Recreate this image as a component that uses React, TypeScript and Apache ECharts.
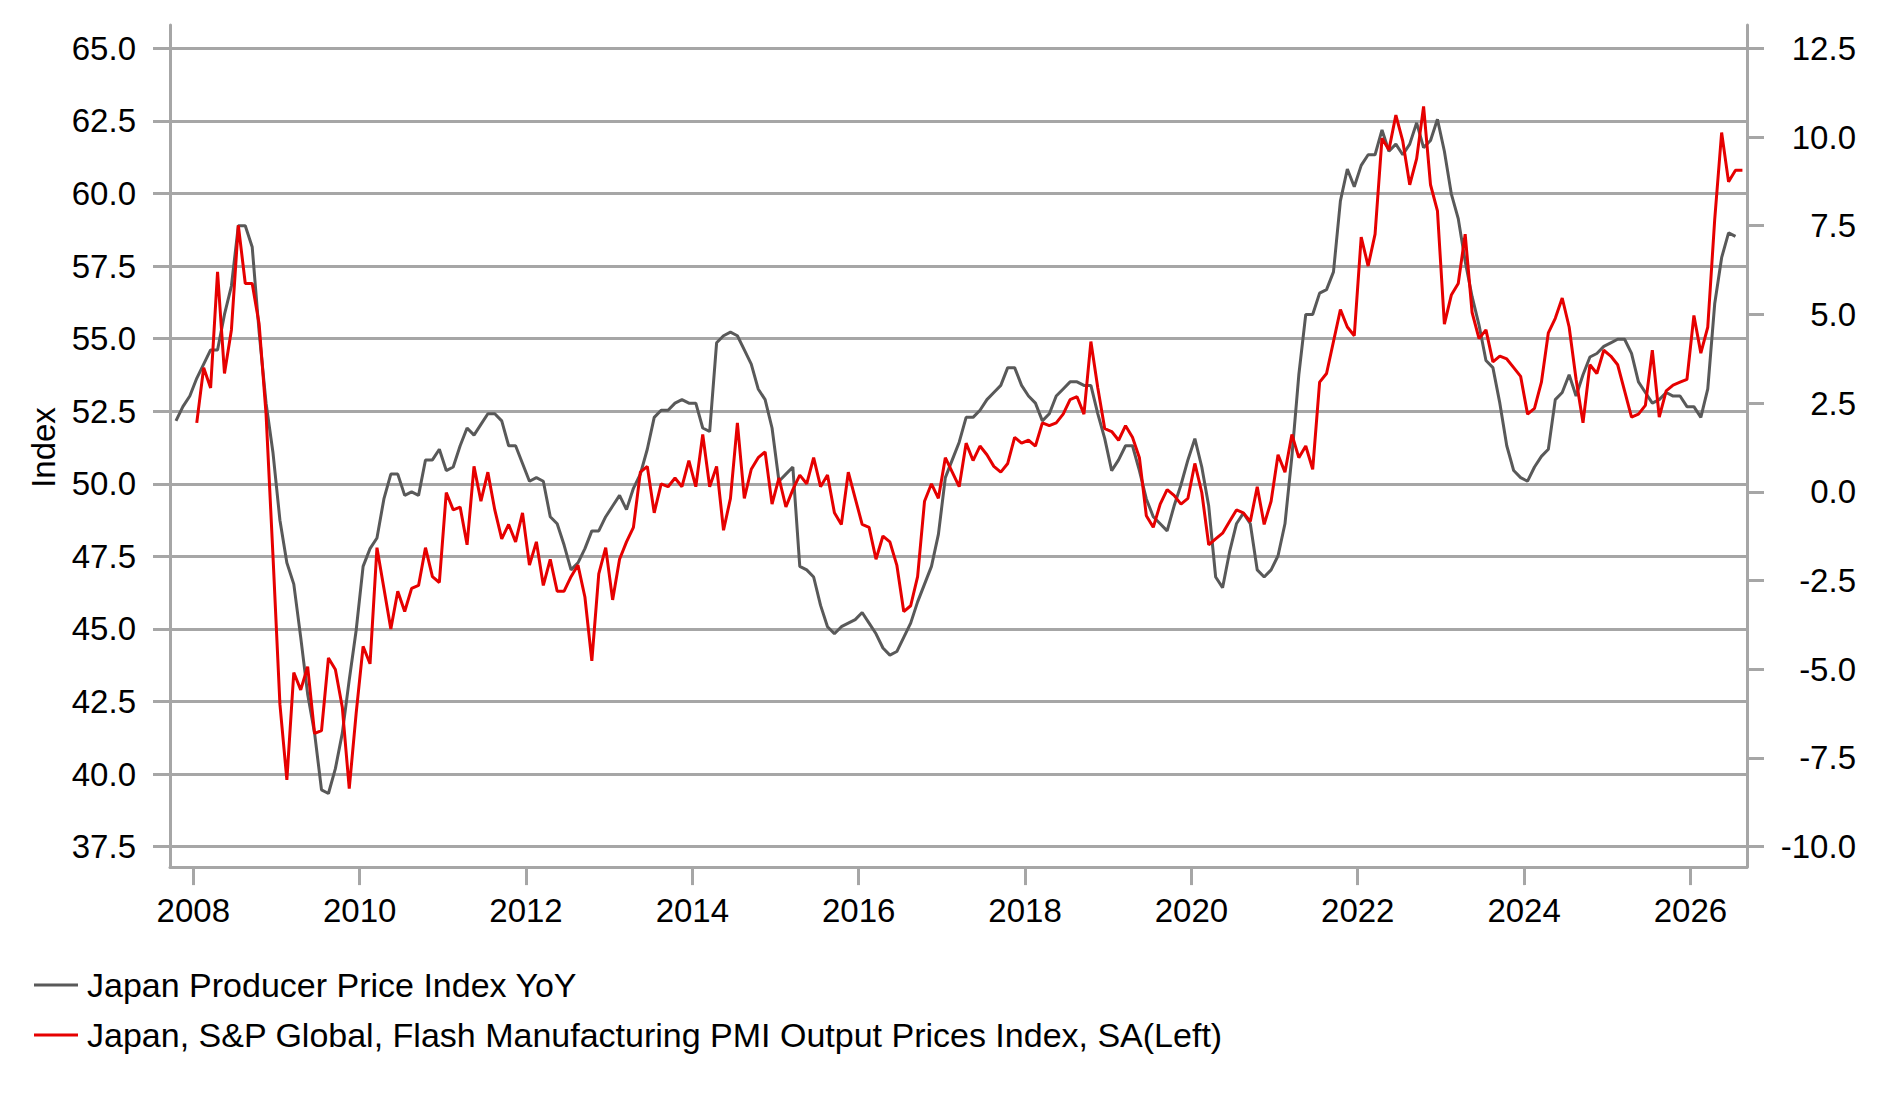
import React, { useEffect, useRef } from "react";
import * as echarts from "echarts";

// Japan Producer Price Index YoY (%), monthly from Oct 2007 (right axis)
const ppiStart = { year: 2007, month: 10 };
const ppiYoY: number[] = [
  2.0, 2.4, 2.7,
  3.2, 3.6, 4.0, 4.0, 5.0, 5.8, 7.5, 7.5, 6.9, 4.5, 2.5, 1.1,
  -0.8, -2.0, -2.6, -4.1, -5.7, -6.8, -8.4, -8.5, -7.8, -6.8, -5.3, -3.9,
  -2.1, -1.6, -1.3, -0.2, 0.5, 0.5, -0.1, 0.0, -0.1, 0.9, 0.9, 1.2,
  0.6, 0.7, 1.3, 1.8, 1.6, 1.9, 2.2, 2.2, 2.0, 1.3, 1.3, 0.8,
  0.3, 0.4, 0.3, -0.7, -0.9, -1.5, -2.2, -2.0, -1.6, -1.1, -1.1, -0.7,
  -0.4, -0.1, -0.5, 0.1, 0.5, 1.2, 2.1, 2.3, 2.3, 2.5, 2.6, 2.5,
  2.5, 1.8, 1.7, 4.2, 4.4, 4.5, 4.4, 4.0, 3.6, 2.9, 2.6, 1.8,
  0.3, 0.5, 0.7, -2.1, -2.2, -2.4, -3.2, -3.8, -4.0, -3.8, -3.7, -3.6,
  -3.4, -3.7, -4.0, -4.4, -4.6, -4.5, -4.1, -3.7, -3.1, -2.6, -2.1, -1.2,
  0.4, 0.9, 1.4, 2.1, 2.1, 2.3, 2.6, 2.8, 3.0, 3.5, 3.5, 3.0,
  2.7, 2.5, 2.0, 2.2, 2.7, 2.9, 3.1, 3.1, 3.0, 3.0, 2.2, 1.5,
  0.6, 0.9, 1.3, 1.3, 0.6, -0.2, -0.7, -0.9, -1.1, -0.4, 0.2, 0.9,
  1.5, 0.7, -0.4, -2.4, -2.7, -1.7, -0.9, -0.6, -0.9, -2.2, -2.4, -2.2,
  -1.8, -0.9, 1.0, 3.3, 5.0, 5.0, 5.6, 5.7, 6.2, 8.2, 9.1, 8.6,
  9.2, 9.5, 9.5, 10.2, 9.6, 9.8, 9.5, 9.8, 10.4, 9.7, 9.9, 10.5,
  9.6, 8.4, 7.7, 6.5, 5.5, 4.7, 3.7, 3.5, 2.5, 1.3, 0.6, 0.4,
  0.3, 0.7, 1.0, 1.2, 2.6, 2.8, 3.3, 2.7, 3.3, 3.8, 3.9, 4.1,
  4.2, 4.3, 4.3, 3.9, 3.1, 2.8, 2.5, 2.6, 2.8, 2.7, 2.7, 2.4,
  2.4, 2.1, 2.9, 5.3, 6.6, 7.3, 7.2,
];

// Japan S&P Global Flash Manufacturing PMI Output Prices, monthly from Jan 2008 (left axis)
const pmiStart = { year: 2008, month: 1 };
const pmiOutputPrices: number[] = [
  52.1, 54.0, 53.3, 57.3, 53.8, 55.3, 58.9, 56.9, 56.9, 55.5, 52.4, 47.5,
  42.4, 39.8, 43.5, 42.9, 43.7, 41.4, 41.5, 44.0, 43.6, 42.3, 39.5, 42.1,
  44.4, 43.8, 47.8, 46.4, 45.0, 46.3, 45.6, 46.4, 46.5, 47.8, 46.8, 46.6,
  49.7, 49.1, 49.2, 47.9, 50.6, 49.4, 50.4, 49.1, 48.1, 48.6, 48.0, 49.0,
  47.2, 48.0, 46.5, 47.4, 46.3, 46.3, 46.8, 47.2, 46.1, 43.9, 46.9, 47.8,
  46.0, 47.4, 48.0, 48.5, 50.4, 50.6, 49.0, 50.0, 49.9, 50.2, 49.9, 50.8,
  49.9, 51.7, 49.9, 50.6, 48.4, 49.5, 52.1, 49.5, 50.5, 50.9, 51.1, 49.3,
  50.2, 49.2, 49.8, 50.3, 50.0, 50.9, 49.9, 50.3, 49.0, 48.6, 50.4, 49.5,
  48.6, 48.5, 47.4, 48.2, 48.0, 47.2, 45.6, 45.8, 46.8, 49.4, 50.0, 49.5,
  50.9, 50.4, 49.9, 51.4, 50.8, 51.3, 51.0, 50.6, 50.4, 50.7, 51.6, 51.4,
  51.5, 51.3, 52.1, 52.0, 52.1, 52.4, 52.9, 53.0, 52.4, 54.9, 53.3, 51.9,
  51.8, 51.5, 52.0, 51.6, 50.9, 48.9, 48.5, 49.3, 49.8, 49.6, 49.3, 49.5,
  50.7, 49.7, 47.9, 48.1, 48.3, 48.7, 49.1, 49.0, 48.7, 49.9, 48.6, 49.4,
  51.0, 50.4, 51.7, 50.9, 51.3, 50.5, 53.5, 53.8, 54.9, 56.0, 55.4, 55.1,
  58.5, 57.5, 58.6, 61.9, 61.5, 62.7, 61.8, 60.3, 61.2, 63.0, 60.3, 59.4,
  55.5, 56.5, 56.9, 58.6, 55.9, 55.0, 55.3, 54.2, 54.4, 54.3, 54.0, 53.7,
  52.4, 52.6, 53.5, 55.2, 55.7, 56.4, 55.4, 53.6, 52.1, 54.1, 53.8, 54.6,
  54.4, 54.1, 53.2, 52.3, 52.4, 52.7, 54.6, 52.3, 53.2, 53.4, 53.5, 53.6,
  55.8, 54.5, 55.4, 59.1, 62.1, 60.4, 60.8, 60.8,
];

const yearTicks: number[] = [2008, 2010, 2012, 2014, 2016, 2018, 2020, 2022, 2024, 2026];
const seriesNames: string[] = [
  "Japan Producer Price Index YoY",
  "Japan, S&P Global, Flash Manufacturing PMI Output Prices Index, SA(Left)",
];

const FONT = 'Arial, "Liberation Sans", sans-serif';
const GRID_COLOR = "#a6a6a6";
const GRID_WIDTH = 3;

function toPoints(start: { year: number; month: number }, values: number[]): [number, number][] {
  return values.map((v, i) => {
    const m = start.month - 1 + i;
    const t = start.year + Math.floor(m / 12) + ((m % 12) + 0.5) / 12;
    return [t, v];
  });
}

export default function App() {
  const ref = useRef<HTMLDivElement>(null);

  useEffect(() => {
    if (!ref.current) return;
    const chart = echarts.init(ref.current, undefined, { renderer: "svg" });
    const lineOnly = { show: true, onZero: false, lineStyle: { color: GRID_COLOR, width: GRID_WIDTH } };
    const tickStyle = { color: GRID_COLOR, width: GRID_WIDTH };
    chart.setOption({
      animation: false,
      backgroundColor: "#ffffff",
      textStyle: { fontFamily: FONT },
      grid: [
        { left: 170, right: 136, top: 48.3, bottom: 254.3, containLabel: false },
        { left: 170, right: 136, top: 25, bottom: 234.3, containLabel: false },
      ],
      legend: {
        orient: "vertical",
        left: 34,
        top: 968,
        padding: 0,
        itemWidth: 44,
        itemHeight: 3,
        itemGap: 16,
        icon: "rect",
        textStyle: { fontSize: 34, color: "#000", fontFamily: FONT, padding: [0, 0, 0, 4] },
        data: seriesNames,
      },
      xAxis: [
        {
          type: "value",
          gridIndex: 0,
          min: 2007.72,
          max: 2026.68,
          offset: 20.4,
          axisLine: lineOnly,
          axisTick: { show: true, length: 18, customValues: yearTicks, lineStyle: tickStyle },
          axisLabel: {
            customValues: yearTicks,
            formatter: (v: number) => String(Math.round(v)),
            fontSize: 33,
            color: "#000",
            fontFamily: FONT,
            margin: 27,
          },
          splitLine: { show: false },
        },
        { type: "value", gridIndex: 1, min: 0, max: 1, show: false },
      ],
      yAxis: [
        {
          type: "value",
          gridIndex: 0,
          min: 37.5,
          max: 65,
          interval: 2.5,
          position: "left",
          name: "Index",
          nameLocation: "middle",
          nameRotate: 90,
          nameGap: 110,
          nameTextStyle: { fontSize: 33, color: "#000", fontFamily: FONT },
          axisLine: { show: false },
          axisTick: { show: true, length: 17, lineStyle: tickStyle },
          axisLabel: {
            formatter: (v: number) => v.toFixed(1),
            fontSize: 33,
            color: "#000",
            fontFamily: FONT,
            margin: 34,
          },
          splitLine: { show: true, lineStyle: { color: GRID_COLOR, width: GRID_WIDTH } },
        },
        {
          type: "value",
          gridIndex: 0,
          min: -10,
          max: 12.5,
          interval: 2.5,
          position: "right",
          axisLine: { show: false },
          axisTick: { show: true, length: 17, lineStyle: tickStyle },
          axisLabel: {
            formatter: (v: number) => v.toFixed(1),
            fontSize: 33,
            color: "#000",
            fontFamily: FONT,
            margin: 109,
            align: "right",
          },
          splitLine: { show: false },
        },
        {
          type: "value",
          gridIndex: 1,
          min: 0,
          max: 1,
          position: "left",
          axisLine: lineOnly,
          axisTick: { show: false },
          axisLabel: { show: false },
          splitLine: { show: false },
        },
        {
          type: "value",
          gridIndex: 1,
          min: 0,
          max: 1,
          position: "right",
          axisLine: lineOnly,
          axisTick: { show: false },
          axisLabel: { show: false },
          splitLine: { show: false },
        },
      ],
      series: [
        {
          name: seriesNames[0],
          type: "line",
          xAxisIndex: 0,
          yAxisIndex: 1,
          symbol: "none",
          data: toPoints(ppiStart, ppiYoY),
          lineStyle: { color: "#595959", width: 3 },
          itemStyle: { color: "#595959" },
        },
        {
          name: seriesNames[1],
          type: "line",
          xAxisIndex: 0,
          yAxisIndex: 0,
          symbol: "none",
          data: toPoints(pmiStart, pmiOutputPrices),
          lineStyle: { color: "#e60000", width: 3 },
          itemStyle: { color: "#e60000" },
        },
      ],
    });
    return () => chart.dispose();
  }, []);

  return (
    <div
      ref={ref}
      style={{ position: "fixed", left: 0, top: 0, width: 1883, height: 1101, background: "#fff" }}
    />
  );
}
